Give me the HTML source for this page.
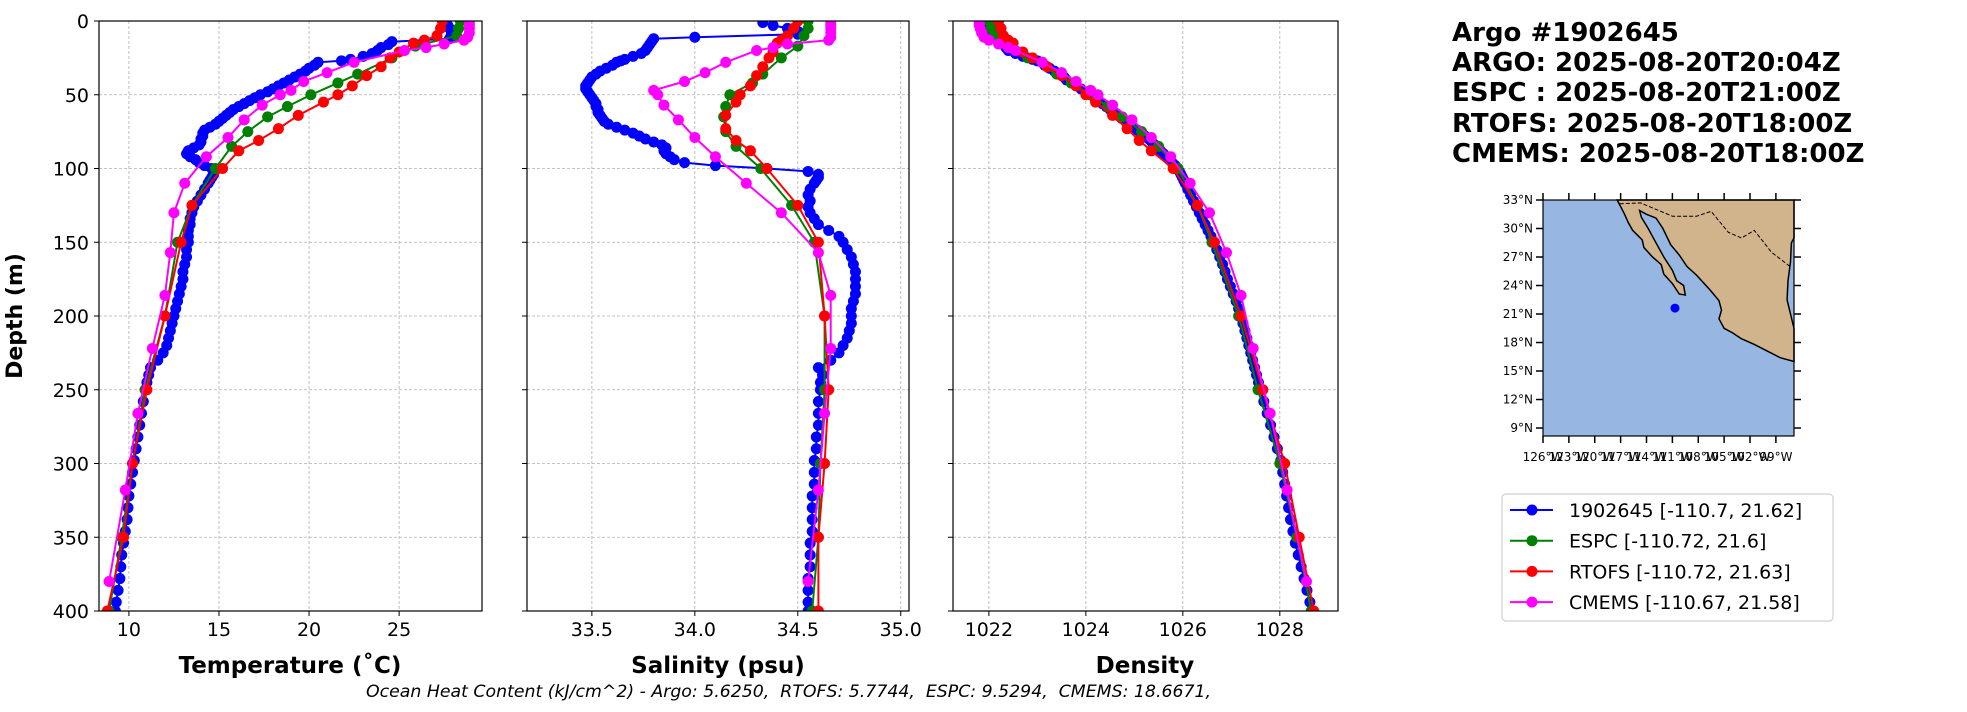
<!DOCTYPE html>
<html><head><meta charset="utf-8"><style>
html,body{margin:0;padding:0;background:#fff;}
svg{display:block;font-family:"DejaVu Sans","Liberation Sans",sans-serif;}
</style></head><body>
<svg id="fig" width="1967" height="712" viewBox="0 0 1967 712" xmlns="http://www.w3.org/2000/svg">
<g id="panels"></g>
<text x="22" y="316" transform="rotate(-90 22 316)" text-anchor="middle" font-size="22" font-weight="bold">Depth (m)</text>
<text x="290" y="673" text-anchor="middle" font-size="23" font-weight="bold">Temperature (˚C)</text>
<text x="718" y="673" text-anchor="middle" font-size="23" font-weight="bold">Salinity (psu)</text>
<text x="1145" y="673" text-anchor="middle" font-size="23" font-weight="bold">Density</text>
<text x="366" y="697" font-size="17" font-style="italic" xml:space="preserve" textLength="845" lengthAdjust="spacingAndGlyphs">Ocean Heat Content (kJ/cm^2) - Argo: 5.6250,  RTOFS: 5.7744,  ESPC: 9.5294,  CMEMS: 18.6671,</text>
<g font-size="26" font-weight="bold">
<text x="1452" y="41">Argo #1902645</text>
<text x="1452" y="71">ARGO: 2025-08-20T20:04Z</text>
<text x="1452" y="101">ESPC : 2025-08-20T21:00Z</text>
<text x="1452" y="132">RTOFS: 2025-08-20T18:00Z</text>
<text x="1452" y="162">CMEMS: 2025-08-20T18:00Z</text>
</g>
<g id="map"></g>
<g id="legend"></g>
</svg>
<script>
// ---- data ----
const argoDepth = [1,3,5,7,9,11,12,14,16,18,20,22,24,26,27,28,30,32,34,36,38,40,42,44,46,48,50,52,54,56,58,60,62,64,66,68,70,72,74,76,78,80,82,84,86,88,90,92,94,96,98,100,102,104,106,108,110,114,118,122,126,130,134,138,142,146,150,155,160,165,170,175,180,185,190,195,200,205,210,215,220,225,230,235,240,245,250,258,266,274,282,290,298,306,314,322,330,338,346,354,362,370,378,386,394,400];
const argoTemp = [27.6,27.7,27.8,27.9,27.9,27.9,27.8,24.6,24.4,24.0,23.8,23.5,23.0,22.3,21.8,20.5,20.3,20.0,19.8,19.5,19.2,18.9,18.6,18.3,18.0,17.7,17.3,17.0,16.7,16.4,16.1,15.8,15.6,15.4,15.2,15.0,14.8,14.5,14.2,14.1,14.1,14.0,14.0,13.9,13.6,13.3,13.2,13.4,13.7,13.9,14.2,14.6,14.7,14.7,14.6,14.5,14.4,14.2,14.0,13.8,13.6,13.5,13.4,13.4,13.3,13.3,13.3,13.2,13.2,13.1,13.0,13.0,12.9,12.8,12.7,12.6,12.5,12.4,12.3,12.2,12.1,11.9,11.6,11.2,11.1,11.0,10.9,10.8,10.7,10.6,10.5,10.4,10.3,10.2,10.1,10.0,9.95,9.9,9.8,9.7,9.6,9.55,9.5,9.4,9.3,9.25];
const argoSal = [34.33,34.38,34.45,34.5,34.5,34.0,33.8,33.79,33.78,33.77,33.76,33.74,33.7,33.66,33.64,33.62,33.6,33.57,33.54,33.52,33.5,33.49,33.48,33.47,33.47,33.48,33.49,33.5,33.51,33.52,33.52,33.53,33.53,33.54,33.55,33.56,33.58,33.62,33.66,33.7,33.73,33.76,33.8,33.84,33.86,33.85,33.86,33.88,33.9,33.95,34.1,34.35,34.55,34.6,34.6,34.59,34.58,34.56,34.55,34.56,34.55,34.56,34.58,34.6,34.65,34.7,34.72,34.74,34.76,34.77,34.78,34.78,34.78,34.78,34.77,34.76,34.76,34.76,34.75,34.74,34.72,34.7,34.66,34.6,34.62,34.61,34.61,34.6,34.6,34.6,34.59,34.59,34.58,34.58,34.58,34.57,34.57,34.57,34.57,34.56,34.56,34.56,34.55,34.55,34.55,34.55];
const argoDens = [1021.95,1021.97,1022.0,1022.02,1022.05,1022.1,1022.15,1022.25,1022.3,1022.35,1022.4,1022.55,1022.7,1022.9,1023.0,1023.1,1023.15,1023.25,1023.35,1023.45,1023.55,1023.6,1023.7,1023.8,1023.9,1024.0,1024.1,1024.18,1024.26,1024.34,1024.42,1024.5,1024.58,1024.66,1024.74,1024.82,1024.9,1024.98,1025.06,1025.14,1025.22,1025.3,1025.36,1025.42,1025.48,1025.54,1025.6,1025.66,1025.72,1025.78,1025.84,1025.9,1025.93,1025.96,1025.99,1026.02,1026.05,1026.1,1026.16,1026.22,1026.28,1026.34,1026.4,1026.46,1026.52,1026.58,1026.65,1026.7,1026.76,1026.82,1026.87,1026.92,1026.98,1027.04,1027.1,1027.15,1027.2,1027.24,1027.28,1027.32,1027.36,1027.4,1027.44,1027.48,1027.52,1027.56,1027.6,1027.67,1027.74,1027.81,1027.88,1027.95,1028.02,1028.06,1028.1,1028.14,1028.18,1028.22,1028.27,1028.32,1028.38,1028.44,1028.5,1028.56,1028.62,1028.65];
const espcDepth = [0,5,10,17,25,36,42,50,58,65,75,85,100,125,150,200,250,300,350,400];
const espcTemp = [28.4,28.3,28.2,25.9,24.6,22.7,21.6,20.1,18.8,17.7,16.6,15.7,14.8,13.5,12.7,12.0,10.9,10.2,9.6,8.9];
const espcSal = [34.55,34.55,34.53,34.5,34.42,34.33,34.28,34.17,34.15,34.14,34.15,34.2,34.32,34.47,34.58,34.63,34.63,34.61,34.6,34.57];
const espcDens = [1022.0,1022.05,1022.1,1022.4,1022.8,1023.4,1023.7,1024.1,1024.45,1024.75,1025.15,1025.5,1025.9,1026.3,1026.6,1027.15,1027.55,1028.0,1028.35,1028.65];
const rtofsDepth = [0,5,10,13,15,21,25,31,37,44,50,55,64,73,81,88,100,125,150,200,250,300,350,400];
const rtofsTemp = [27.4,27.3,27.1,26.4,25.8,25.0,24.5,24.0,23.2,22.4,21.6,20.8,19.4,18.3,17.2,16.1,15.2,13.5,12.9,12.0,11.0,10.2,9.7,8.8];
const rtofsSal = [34.5,34.48,34.45,34.42,34.4,34.38,34.36,34.33,34.3,34.27,34.22,34.2,34.15,34.15,34.2,34.27,34.35,34.5,34.6,34.63,34.65,34.63,34.6,34.6];
const rtofsDens = [1022.2,1022.25,1022.3,1022.4,1022.5,1022.7,1022.9,1023.2,1023.5,1023.8,1024.0,1024.2,1024.55,1024.85,1025.1,1025.35,1025.8,1026.3,1026.65,1027.2,1027.65,1028.1,1028.4,1028.7];
const cmemsDepth = [0.5,2.6,5,8,11,13,15.6,18,20,28,35,41,47,50,57,67,79,92,110,130,157,186,222,266,318,380];
const cmemsTemp = [28.9,28.9,28.9,28.9,28.8,28.6,27.5,26.5,25.3,22.5,21.0,19.7,19.0,18.4,17.4,16.4,15.5,14.3,13.1,12.5,12.3,12.0,11.3,10.5,9.8,8.9];
const cmemsSal = [34.66,34.66,34.66,34.66,34.66,34.65,34.45,34.38,34.3,34.15,34.05,33.95,33.8,33.82,33.85,33.92,34.0,34.1,34.25,34.42,34.6,34.66,34.66,34.63,34.6,34.55];
const cmemsDens = [1021.8,1021.8,1021.82,1021.85,1021.9,1022.0,1022.2,1022.4,1022.55,1023.1,1023.5,1023.8,1024.1,1024.25,1024.55,1024.95,1025.35,1025.75,1026.15,1026.55,1026.9,1027.2,1027.45,1027.8,1028.15,1028.55];
const depthTicks = [0,50,100,150,200,250,300,350,400];
const tempTicks = [10,15,20,25];
const salTicks = [33.5,34.0,34.5,35.0];
const densTicks = [1022,1024,1026,1028];
const legendLabels = ["1902645 [-110.7, 21.62]","ESPC [-110.72, 21.6]","RTOFS [-110.72, 21.63]","CMEMS [-110.67, 21.58]"];
const floatLon = -110.7, floatLat = 21.62;
const latTicks = [33,30,27,24,21,18,15,12,9];
const lonTicks = [-126,-123,-120,-117,-114,-111,-108,-105,-102,-99];

const NS="http://www.w3.org/2000/svg";
function mk(tag,attrs,parent){const e=document.createElementNS(NS,tag);for(const k in attrs)e.setAttribute(k,attrs[k]);parent.appendChild(e);return e;}
const Y0=21,Y1=611;
const yD=d=>Y0+(d/400)*(Y1-Y0);
const panels=[
 {x0:99,x1:482,lo:8.34,hi:29.6,ticks:tempTicks,fmt:v=>String(v),key:'temp',name:'temperature'},
 {x0:527,x1:909,lo:33.185,hi:35.04,ticks:salTicks,fmt:v=>v.toFixed(1),key:'sal',name:'salinity'},
 {x0:953,x1:1338,lo:1021.26,hi:1029.2,ticks:densTicks,fmt:v=>String(v),key:'dens',name:'density'}];
const series=[
 {name:'argo',color:'#0000ff',depth:argoDepth,temp:argoTemp,sal:argoSal,dens:argoDens},
 {name:'espc',color:'#008000',depth:espcDepth,temp:espcTemp,sal:espcSal,dens:espcDens},
 {name:'rtofs',color:'#ff0000',depth:rtofsDepth,temp:rtofsTemp,sal:rtofsSal,dens:rtofsDens},
 {name:'cmems',color:'#ff00ff',depth:cmemsDepth,temp:cmemsTemp,sal:cmemsSal,dens:cmemsDens}];
const root=document.getElementById('panels');
panels.forEach((p,pi)=>{
 const g=mk('g',{},root);
 
 
 const xS=v=>p.x0+(v-p.lo)/(p.hi-p.lo)*(p.x1-p.x0);
 const clipId='clip'+pi;
 const cp=mk('clipPath',{id:clipId},g);mk('rect',{x:p.x0,y:Y0,width:p.x1-p.x0,height:Y1-Y0},cp);
 depthTicks.forEach(d=>{
  const l=mk('line',{x1:p.x0,x2:p.x1,y1:yD(d),y2:yD(d),stroke:'#b0b0b0','stroke-width':0.8,'stroke-dasharray':'3,2'},g);
  
  
  mk('line',{x1:p.x0-5,x2:p.x0,y1:yD(d),y2:yD(d),stroke:'#000','stroke-width':1},g);
  if(pi===0){const t=mk('text',{x:p.x0-10,y:yD(d)+7,'text-anchor':'end','font-size':19},g);t.textContent=d;
   
   }
 });
 p.ticks.forEach(v=>{
  const l=mk('line',{x1:xS(v),x2:xS(v),y1:Y0,y2:Y1,stroke:'#b0b0b0','stroke-width':0.8,'stroke-dasharray':'3,2'},g);
  
  
  mk('line',{x1:xS(v),x2:xS(v),y1:Y1,y2:Y1+5,stroke:'#000','stroke-width':1},g);
  const t=mk('text',{x:xS(v),y:Y1+25,'text-anchor':'middle','font-size':19},g);t.textContent=p.fmt(v);
  
  
 });
 const sg=mk('g',{'clip-path':'url(#'+clipId+')'},g);
 series.forEach(s=>{
  const vals=s[p.key];
  const pts=s.depth.map((d,i)=>xS(vals[i]).toFixed(1)+','+yD(d).toFixed(1)).join(' ');
  const pl=mk('polyline',{points:pts,fill:'none',stroke:s.color,'stroke-width':2},sg);
  
  
  s.depth.forEach((d,i)=>{
   const c=mk('circle',{cx:xS(vals[i]),cy:yD(d),r:5.5,fill:s.color},sg);
   
   
  });
 });
 const fr=mk('rect',{x:p.x0,y:Y0,width:p.x1-p.x0,height:Y1-Y0,fill:'none',stroke:'#000','stroke-width':1.2},g);
 
 
});

// ---- map ----
const map=document.getElementById('map');
const MX0=1543,MX1=1794,MY0=200,MY1=436;
const mLon0=-126,mLon1=-96.9,mLat0=8.16,mLat1=33;
const mx=l=>MX0+(l-mLon0)/(mLon1-mLon0)*(MX1-MX0);
const my=l=>MY1-(l-mLat0)/(mLat1-mLat0)*(MY1-MY0);
mk('rect',{x:MX0,y:MY0,width:MX1-MX0,height:MY1-MY0,fill:'#97b6e1'},map);
const land=[[-117.4,33],[-116.6,31.6],[-116.1,30.6],[-115.6,29.8],[-114.5,28.8],[-114.3,28],[-113.3,27],[-112.3,26.2],[-112,25.2],[-111,24.2],[-110.2,23.1],[-109.5,23.0],[-109.7,24],[-110.5,24.5],[-111,25.6],[-112,27],[-112.9,28.5],[-113.8,30],[-114.6,31.2],[-114.8,31.9],[-114,31.5],[-112.9,31.1],[-112.1,30],[-111.2,28.3],[-110.2,27.2],[-109.3,26],[-108.2,25.1],[-106.6,23.5],[-105.6,22.4],[-105.3,21.4],[-105.6,20.5],[-105.0,19.5],[-104,19.0],[-103,18.4],[-101.5,17.8],[-100,17.1],[-98.5,16.4],[-96.9,16.0],[-96.9,19.5],[-97.3,21],[-97.7,22.5],[-97.6,24.5],[-97.3,26.5],[-97.2,28.5],[-96.9,29],[-96.9,33]];
const lp=mk('polygon',{points:land.map(a=>mx(a[0]).toFixed(1)+','+my(a[1]).toFixed(1)).join(' '),fill:'#d2b48c',stroke:'#000','stroke-width':1.5},map);


const border=[[-117.1,32.6],[-114.7,32.7],[-111,31.3],[-108.2,31.3],[-106.5,31.8],[-104.5,29.6],[-103,29],[-101.5,29.8],[-99.5,27.5],[-97.2,25.9]];
const bl=mk('polyline',{points:border.map(a=>mx(a[0]).toFixed(1)+','+my(a[1]).toFixed(1)).join(' '),fill:'none',stroke:'#000','stroke-width':1,'stroke-dasharray':'4,2'},map);


const fl=mk('circle',{cx:mx(floatLon),cy:my(floatLat),r:4.5,fill:'#0000ff'},map);


mk('rect',{x:MX0,y:MY0,width:MX1-MX0,height:MY1-MY0,fill:'none',stroke:'#000','stroke-width':1.2},map);
latTicks.forEach(l=>{
 mk('line',{x1:MX0-7,x2:MX0,y1:my(l),y2:my(l),stroke:'#000','stroke-width':1.5},map);
 mk('line',{x1:MX1,x2:MX1+7,y1:my(l),y2:my(l),stroke:'#000','stroke-width':1.5},map);
 const t=mk('text',{x:MX0-10,y:my(l)+4,'text-anchor':'end','font-size':12},map);t.textContent=l+'°N';
 
 
});
lonTicks.forEach(l=>{
 mk('line',{x1:mx(l),x2:mx(l),y1:MY0-7,y2:MY0,stroke:'#000','stroke-width':1.5},map);
 mk('line',{x1:mx(l),x2:mx(l),y1:MY1,y2:MY1+7,stroke:'#000','stroke-width':1.5},map);
 const t=mk('text',{x:mx(l),y:MY1+25,'text-anchor':'middle','font-size':12},map);t.textContent=(-l)+'°W';
 
 
});

// ---- legend ----
const lg=document.getElementById('legend');
mk('rect',{x:1502,y:494,width:331,height:127,rx:4,fill:'#fff',stroke:'#d0d0d0','stroke-width':1.2},lg);
series.forEach((s,i)=>{
 const y=510+i*30.7;
 const e=mk('g',{},lg);
 
 
 mk('line',{x1:1510,x2:1553,y1:y,y2:y,stroke:s.color,'stroke-width':2},e);
 mk('circle',{cx:1532,cy:y,r:5.5,fill:s.color},e);
 const t=mk('text',{x:1569,y:y+7,'font-size':19},e);t.textContent=legendLabels[i];
});
</script>
</body></html>
